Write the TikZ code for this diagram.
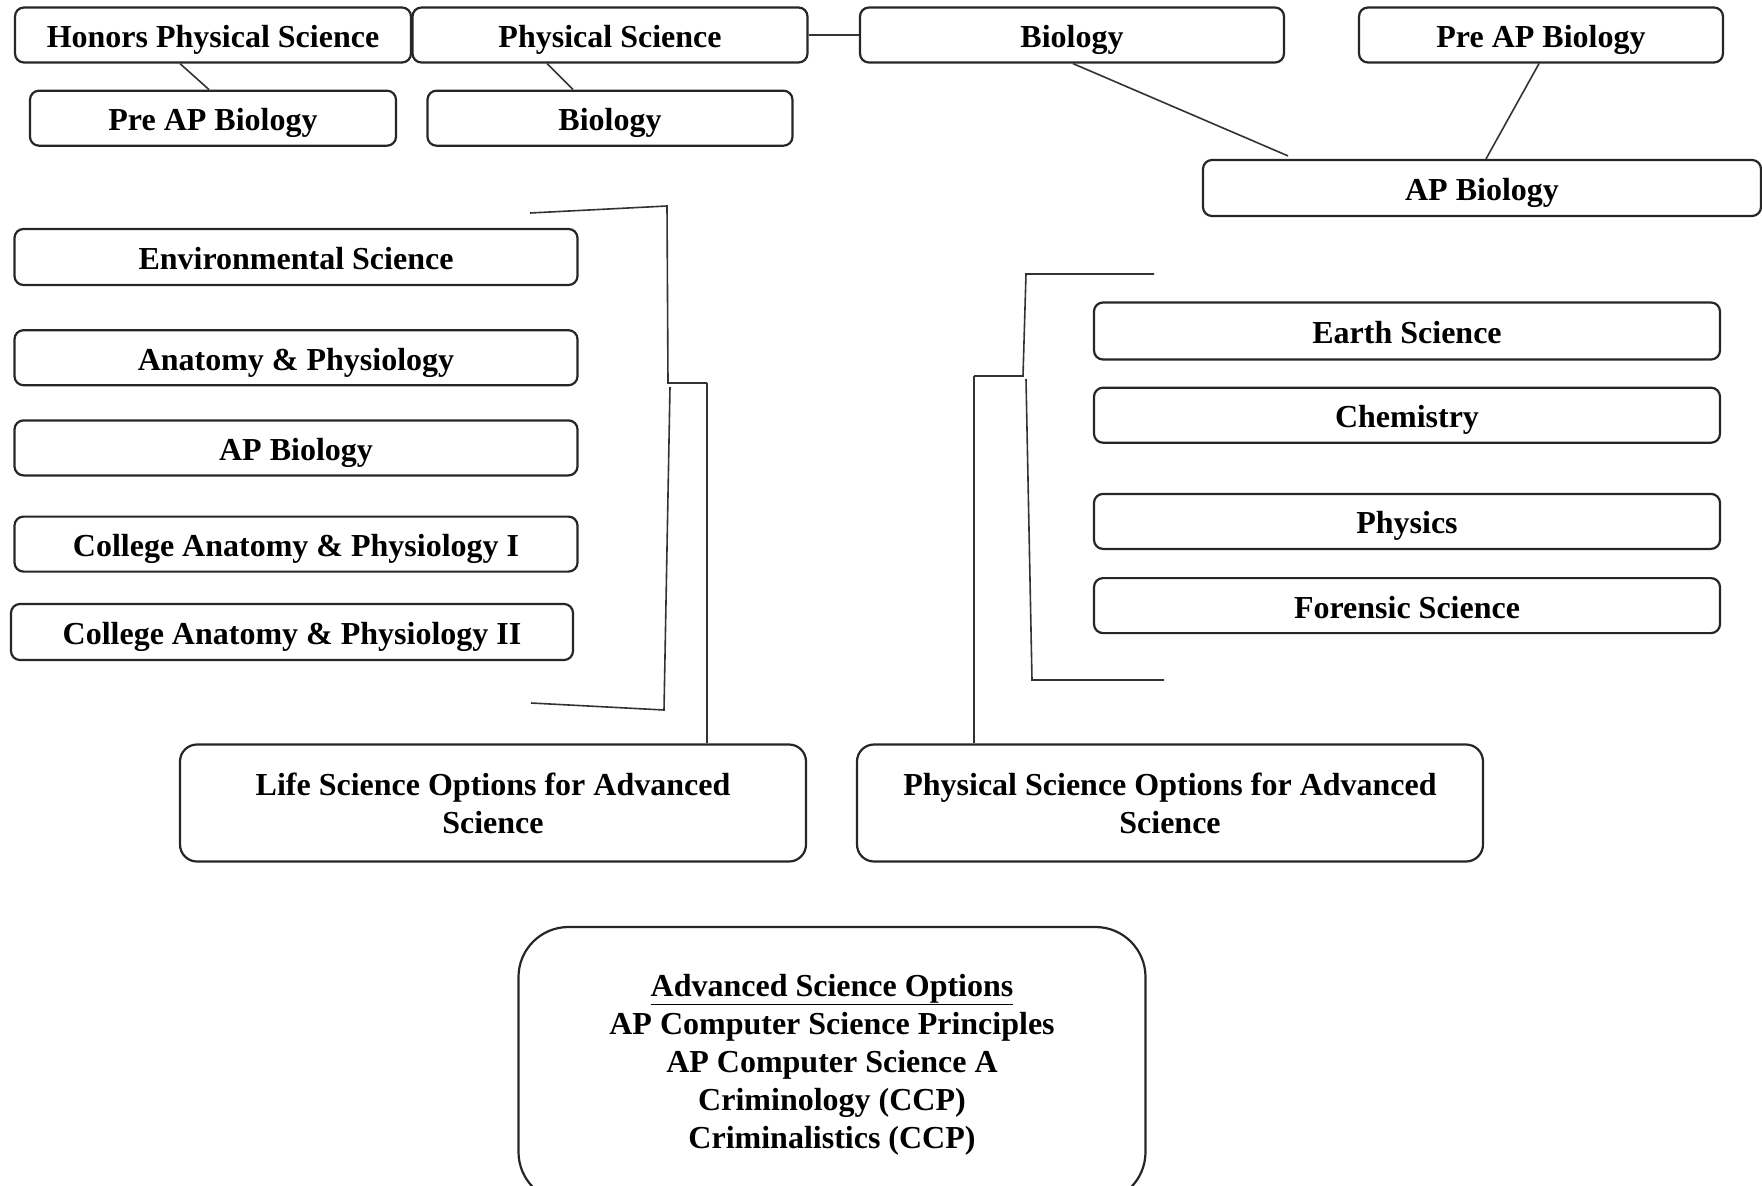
\documentclass[tikz,border=0pt]{standalone}
\usepackage{fontspec}
\setmainfont{Liberation Serif}
\usepackage{tikz}
\usetikzlibrary{positioning}
\tikzstyle{coursebox} = [draw=black!85, line width=2.2pt, rectangle,
    rounded corners=9pt, minimum height=55pt, inner sep=0pt,
    text height=25pt, text depth=0pt,
    font=\fontsize{32}{38}\selectfont\bfseries]
\tikzstyle{optionbox} = [coursebox, text height={}, text depth={},
    rounded corners=17pt, minimum width=626pt, minimum height=117pt, align=center]
\tikzstyle{bigbox} = [optionbox, rounded corners=50pt,
    minimum width=627pt, minimum height=275pt]
\tikzstyle{link} = [draw=black!80, line width=1.6pt]

\begin{document}
\begin{tikzpicture}[x=1pt,y=-1pt]
\useasboundingbox (0,0) rectangle (1762,1186);

\node [coursebox, minimum width=396pt] (hps) at (213,35) {Honors Physical Science};
\node [coursebox, minimum width=395pt] (ps) at (610,35) {Physical Science};
\node [coursebox, minimum width=424pt] (bio1) at (1072,35) {Biology};
\node [coursebox, minimum width=364pt] (pap1) at (1541,35) {Pre AP Biology};

\node [coursebox, minimum width=366pt, below=26pt of hps] (pap2) {Pre AP Biology};
\node [coursebox, minimum width=365pt, below=26pt of ps] (bio2) {Biology};
\node [coursebox, minimum width=558pt, minimum height=56pt] (apb1) at (1482,188) {AP Biology};

\draw [link] ([xshift=-33pt]hps.south) -- ([xshift=-4pt]pap2.north);
\draw [link] ([xshift=-63pt]ps.south) -- ([xshift=-37pt]bio2.north);
\draw [link] (ps.east) -- (bio1.west);
\draw [link] ([xshift=1pt]bio1.south) -- ([xshift=-194pt,yshift=3pt]apb1.north);
\draw [link] ([xshift=-2pt]pap1.south) -- ([xshift=4pt]apb1.north);

\node [coursebox, minimum width=563pt, minimum height=56pt] (env) at (296,257) {Environmental Science};
\node [coursebox, minimum width=563pt, below=43pt of env] (anat) {Anatomy \& Physiology};
\node [coursebox, minimum width=563pt, below=33pt of anat] (apb2) {AP Biology};
\node [coursebox, minimum width=563pt, below=39pt of apb2] (cap1) {College Anatomy \& Physiology I};
\node [coursebox, minimum width=562pt, minimum height=56pt] (cap2) at (292,632) {College Anatomy \& Physiology II};

\node [coursebox, minimum width=626pt, minimum height=57pt] (earth) at (1407,331) {Earth Science};
\node [coursebox, minimum width=626pt, below=26pt of earth] (chem) {Chemistry};
\node [coursebox, minimum width=626pt, below=49pt of chem] (phys) {Physics};
\node [coursebox, minimum width=626pt, below=27pt of phys] (foren) {Forensic Science};

\node [optionbox] (lifebox) at (493,803) {Life Science Options for Advanced\\Science};
\node [optionbox] (physbox) at (1170,803) {Physical Science Options for Advanced\\Science};

\node [bigbox] (advbox) at (832,1064.5) {\underline{Advanced Science Options}\\
    AP Computer Science Principles\\
    AP Computer Science A\\
    Criminology (CCP)\\
    Criminalistics (CCP)};

\coordinate (lbtop) at (530,213);
\coordinate (lbcorner) at (667,206);
\coordinate (lbmid) at (668,383);
\coordinate (lbjoin) at (707,383);
\coordinate (lblow) at (670,387);
\coordinate (lbfoot) at (664,710);
\coordinate (lbbot) at (531,703);

\draw [link] (lbtop) -- (lbcorner) -- (lbmid) -- (lbjoin);
\draw [link] (lbjoin) -- (lbjoin |- lifebox.north);
\draw [link] (lblow) -- (lbfoot) -- (lbbot);

\coordinate (rbtop) at (1154,274);
\coordinate (rbcorner) at (1026,274);
\coordinate (rbmid) at (1023,376);
\coordinate (rbjoin) at (974,376);
\coordinate (rblow) at (1026,379);
\coordinate (rbfoot) at (1032,680);
\coordinate (rbbot) at (1164,680);

\draw [link] (rbtop) -- (rbcorner) -- (rbmid) -- (rbjoin);
\draw [link] (rbjoin) -- (rbjoin |- physbox.north);
\draw [link] (rblow) -- (rbfoot) -- (rbbot);

\end{tikzpicture}
\end{document}
